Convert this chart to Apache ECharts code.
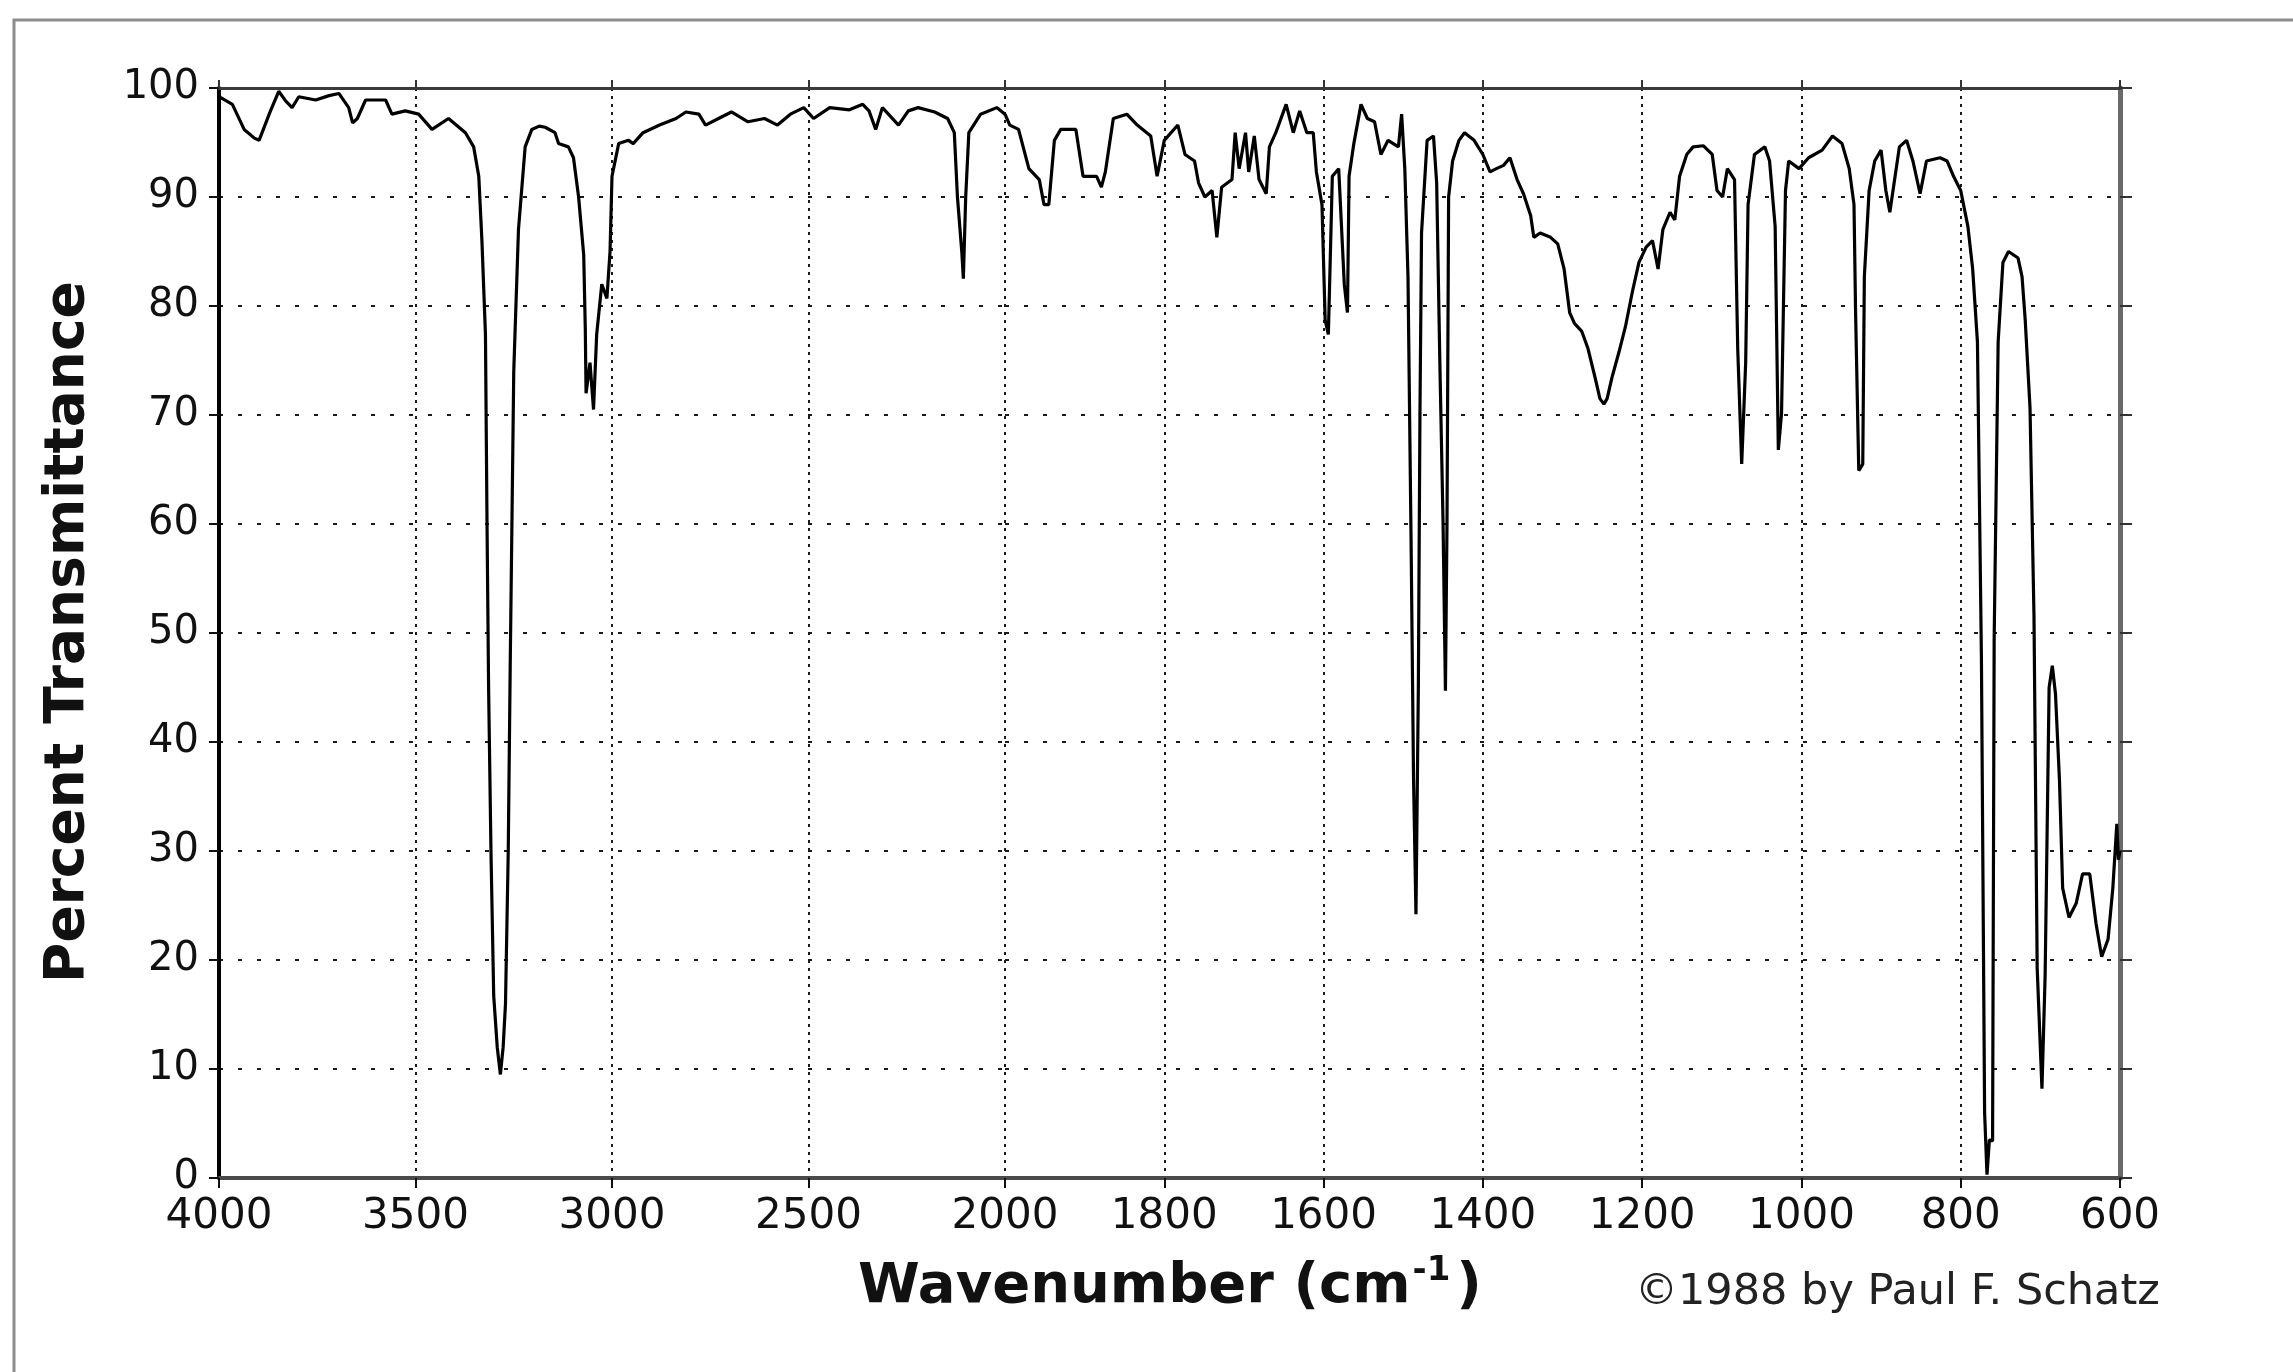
<!DOCTYPE html>
<html>
<head>
<meta charset="utf-8">
<title>IR spectrum</title>
<script src="https://cdn.jsdelivr.net/npm/echarts@6/dist/echarts.min.js"></script>
<style>
  html, body { margin: 0; padding: 0; background: #fff; }
  #chart { width: 2293px; height: 1372px; }
</style>
</head>
<body>
<div id="chart"></div>
<script>
// wavenumber (cm-1) from left to right
const wavenumbers = [
  4000, 3966, 3936, 3910, 3898, 3869, 3848, 3830, 3814, 3797, 3754, 3720, 3695, 3670, 3660, 3648,
  3627, 3576, 3560, 3526, 3492, 3458, 3416, 3373, 3352, 3339, 3331, 3322, 3318, 3314, 3308, 3301,
  3292, 3284, 3277, 3271, 3264, 3259, 3250, 3238, 3221, 3204, 3185, 3170, 3145, 3136, 3111, 3098,
  3085, 3072, 3068, 3066, 3056, 3047, 3039, 3026, 3013, 3005, 3000, 2983, 2958, 2946, 2921, 2879,
  2837, 2812, 2779, 2762, 2729, 2696, 2654, 2612, 2579, 2546, 2512, 2487, 2446, 2396, 2362, 2346,
  2329, 2312, 2271, 2246, 2221, 2179, 2146, 2129, 2121, 2110, 2106, 2100, 2092, 2062, 2021, 2000,
  1994, 1983, 1970, 1957, 1951, 1945, 1938, 1930, 1911, 1902, 1885, 1879, 1874, 1864, 1847, 1834,
  1817, 1809, 1800, 1783, 1774, 1762, 1757, 1749, 1740, 1734, 1728, 1715, 1711, 1706, 1698, 1694,
  1687, 1681, 1672, 1668, 1660, 1647, 1638, 1630, 1621, 1613, 1609, 1602, 1598, 1594, 1589, 1581,
  1574, 1570, 1568, 1562, 1553, 1545, 1536, 1528, 1519, 1506, 1502, 1498, 1494, 1490, 1487, 1484,
  1481, 1479, 1477, 1470, 1462, 1458, 1454, 1450, 1447, 1445, 1443, 1438, 1430, 1423, 1411, 1400,
  1391, 1383, 1374, 1366, 1357, 1349, 1340, 1336, 1328, 1315, 1306, 1298, 1291, 1285, 1276, 1268,
  1259, 1253, 1248, 1244, 1238, 1229, 1221, 1212, 1204, 1195, 1187, 1180, 1174, 1165, 1159, 1153,
  1144, 1136, 1123, 1112, 1106, 1099, 1093, 1084, 1080, 1075, 1070, 1067, 1059, 1046, 1040, 1033,
  1029, 1025, 1020, 1016, 1003, 991, 974, 961, 949, 940, 934, 932, 928, 923, 921, 915,
  908, 900, 894, 889, 885, 877, 868, 860, 851, 843, 826, 817, 809, 800, 791, 785,
  779, 774, 770, 767, 764, 760, 758, 753, 747, 740, 728, 723, 719, 713, 708, 704,
  698, 694, 689, 685, 681, 676, 672, 664, 655, 647, 638, 630, 623, 615, 609, 604,
  602, 600
];

// percent transmittance at each wavenumber above
const transmittance = [
  99.2, 98.5, 96.2, 95.4, 95.2, 97.9, 99.7, 98.8, 98.2, 99.2, 98.9, 99.3, 99.5, 98.2, 96.8, 97.2,
  98.9, 98.9, 97.6, 97.9, 97.6, 96.2, 97.2, 95.9, 94.6, 91.9, 86.0, 77.4, 60.0, 45.0, 30.0, 16.7,
  12.0, 9.5, 12.0, 16.0, 30.0, 47.0, 74.0, 87.0, 94.6, 96.2, 96.5, 96.4, 95.9, 94.9, 94.6, 93.6,
  90.0, 84.7, 78.0, 72.0, 74.8, 70.5, 77.4, 82.0, 80.7, 85.0, 91.9, 94.9, 95.2, 94.9, 95.9, 96.6,
  97.2, 97.8, 97.6, 96.6, 97.2, 97.8, 96.9, 97.2, 96.6, 97.6, 98.2, 97.2, 98.2, 98.0, 98.5, 97.9,
  96.2, 98.2, 96.6, 97.9, 98.2, 97.8, 97.2, 95.9, 90.0, 85.0, 82.5, 90.0, 95.9, 97.6, 98.2, 97.6,
  96.6, 96.2, 92.6, 91.6, 89.3, 89.3, 95.2, 96.2, 96.2, 91.9, 91.9, 90.9, 92.3, 97.2, 97.6, 96.6,
  95.6, 91.9, 95.2, 96.6, 93.9, 93.3, 91.3, 90.0, 90.6, 86.3, 90.9, 91.6, 95.9, 92.6, 95.9, 92.3,
  95.6, 91.6, 90.3, 94.6, 95.9, 98.5, 95.9, 97.9, 95.9, 95.9, 92.3, 89.3, 78.7, 77.4, 91.9, 92.6,
  82.0, 79.4, 91.9, 94.9, 98.5, 97.2, 96.9, 93.9, 95.2, 94.6, 97.6, 92.6, 82.7, 57.6, 36.5, 24.2,
  45.0, 70.0, 86.7, 95.2, 95.6, 91.3, 74.8, 60.2, 44.7, 60.2, 90.0, 93.3, 95.2, 95.9, 95.2, 93.9,
  92.3, 92.6, 92.9, 93.6, 91.6, 90.3, 88.3, 86.3, 86.7, 86.3, 85.7, 83.4, 79.4, 78.4, 77.7, 76.1,
  73.4, 71.5, 71.0, 71.5, 73.4, 75.8, 78.1, 81.4, 84.0, 85.4, 86.0, 83.4, 87.0, 88.6, 87.9, 91.9,
  93.9, 94.6, 94.7, 93.9, 90.6, 90.0, 92.6, 91.6, 76.1, 65.5, 74.8, 89.3, 93.9, 94.6, 93.3, 87.3,
  66.8, 70.1, 90.6, 93.3, 92.6, 93.6, 94.3, 95.6, 94.9, 92.6, 89.3, 79.4, 64.9, 65.5, 82.7, 90.6,
  93.3, 94.3, 90.6, 88.6, 90.6, 94.6, 95.2, 93.3, 90.3, 93.3, 93.6, 93.3, 91.9, 90.6, 87.3, 83.4,
  76.7, 47.7, 6.0, 0.3, 3.5, 3.4, 49.5, 76.7, 84.0, 85.0, 84.4, 82.7, 78.7, 70.7, 51.6, 19.3,
  8.2, 18.6, 45.0, 47.0, 44.4, 36.5, 26.6, 23.9, 25.2, 27.9, 27.9, 23.3, 20.3, 21.9, 26.6, 32.5,
  29.2, 30.0
];

// the x scale changes at 2000 cm-1: two linear ranges side by side
const highRange = [2000, 4000];
const highStep = 500;
const lowRange = [600, 2000];
const lowStep = 200;
const yRange = [0, 100];
const yStep = 10;

const highData = [];
const lowData = [];
wavenumbers.forEach((w, i) => {
    if (w >= highRange[0]) highData.push([w, transmittance[i]]);
    if (w <= lowRange[1]) lowData.push([w, transmittance[i]]);
});

const tickFont = 'DejaVu Sans, Liberation Sans, sans-serif';

const bottomAxis = (grid, range, step, hideValue) => ({
    gridIndex: grid,
    type: 'value',
    position: 'bottom',
    min: range[0],
    max: range[1],
    interval: step,
    inverse: true,
    axisLine: { show: true, onZero: false, lineStyle: { color: '#4a4a4a', width: 4 } },
    axisTick: { show: true, length: 10, lineStyle: { color: '#111', width: 2 } },
    axisLabel: {
        fontFamily: tickFont, fontSize: 42, color: '#111', margin: 18,
        formatter: (v) => (v === hideValue ? '' : String(v))
    },
    splitLine: { show: true, lineStyle: { type: [3, 5], color: '#1a1a1a', width: 2 } }
});

const topAxis = (grid, range, step) => ({
    gridIndex: grid,
    type: 'value',
    position: 'top',
    min: range[0],
    max: range[1],
    interval: step,
    inverse: true,
    axisLine: { show: true, onZero: false, lineStyle: { color: '#3a3a3a', width: 3 } },
    axisTick: { show: true, length: 8, lineStyle: { color: '#333', width: 2 } },
    axisLabel: { show: false },
    splitLine: { show: false }
});

const hSplit = { show: true, lineStyle: { type: [4, 15], color: '#1a1a1a', width: 2 } };

const option = {
    animation: false,
    backgroundColor: '#fff',
    grid: [
        { left: 219, top: 88, width: 786, height: 1090 },
        { left: 1005, top: 88, width: 1115, height: 1090 }
    ],
    xAxis: [
        bottomAxis(0, highRange, highStep, null),
        bottomAxis(1, lowRange, lowStep, 2000),
        topAxis(0, highRange, highStep),
        topAxis(1, lowRange, lowStep)
    ],
    yAxis: [
        {
            gridIndex: 0, type: 'value', min: yRange[0], max: yRange[1], interval: yStep,
            axisLine: { show: true, lineStyle: { color: '#000', width: 4 } },
            axisTick: { show: true, length: 10, lineStyle: { color: '#111', width: 2 } },
            axisLabel: { fontFamily: tickFont, fontSize: 40, color: '#111', margin: 20 },
            splitLine: hSplit
        },
        {
            gridIndex: 1, type: 'value', min: yRange[0], max: yRange[1], interval: yStep,
            axisLine: { show: false }, axisTick: { show: false }, axisLabel: { show: false },
            splitLine: hSplit
        },
        {
            gridIndex: 1, type: 'value', position: 'right', min: yRange[0], max: yRange[1], interval: yStep,
            axisLine: { show: true, lineStyle: { color: '#6a6a6a', width: 5 } },
            axisTick: { show: true, length: 12, lineStyle: { color: '#333', width: 2 } },
            axisLabel: { show: false },
            splitLine: { show: false }
        }
    ],
    series: [
        {
            type: 'line', xAxisIndex: 0, yAxisIndex: 0, data: highData,
            symbol: 'none', z: 5,
            lineStyle: { color: '#000', width: 3.2 }
        },
        {
            type: 'line', xAxisIndex: 1, yAxisIndex: 1, data: lowData,
            symbol: 'none', z: 5,
            lineStyle: { color: '#000', width: 3.2 }
        }
    ],
    graphic: [
        {
            type: 'polyline', silent: true,
            shape: { points: [[14, 1372], [14, 20], [2293, 20]] },
            style: { stroke: '#8c8c8c', lineWidth: 3, fill: null }
        },
        {
            type: 'text', x: 69, y: 632, rotation: Math.PI / 2,
            style: {
                text: 'Percent Transmittance',
                font: 'bold 55px DejaVu Sans, Liberation Sans, sans-serif',
                fill: '#111', textAlign: 'center', textVerticalAlign: 'middle',
                align: 'center', verticalAlign: 'middle'
            }
        },
        {
            type: 'text', x: 1170, y: 1287,
            style: {
                text: '{a|Wavenumber (cm}{s|-1}{a|)}',
                fill: '#111', textAlign: 'center', textVerticalAlign: 'middle',
                align: 'center', verticalAlign: 'middle',
                rich: {
                    a: { font: 'bold 56px DejaVu Sans, Liberation Sans, sans-serif', fill: '#111', lineHeight: 66 },
                    s: { font: 'bold 34px DejaVu Sans, Liberation Sans, sans-serif', fill: '#111', verticalAlign: 'top', lineHeight: 66, padding: [0, 6, 0, 2] }
                }
            }
        },
        {
            type: 'text', x: 1635, y: 1293,
            style: {
                text: '\u00a91988 by Paul F. Schatz',
                font: '43px DejaVu Sans, Liberation Sans, sans-serif',
                fill: '#222', textAlign: 'left', textVerticalAlign: 'middle',
                align: 'left', verticalAlign: 'middle'
            }
        }
    ]
};

const chart = echarts.init(document.getElementById('chart'));
chart.setOption(option);
</script>
</body>
</html>
